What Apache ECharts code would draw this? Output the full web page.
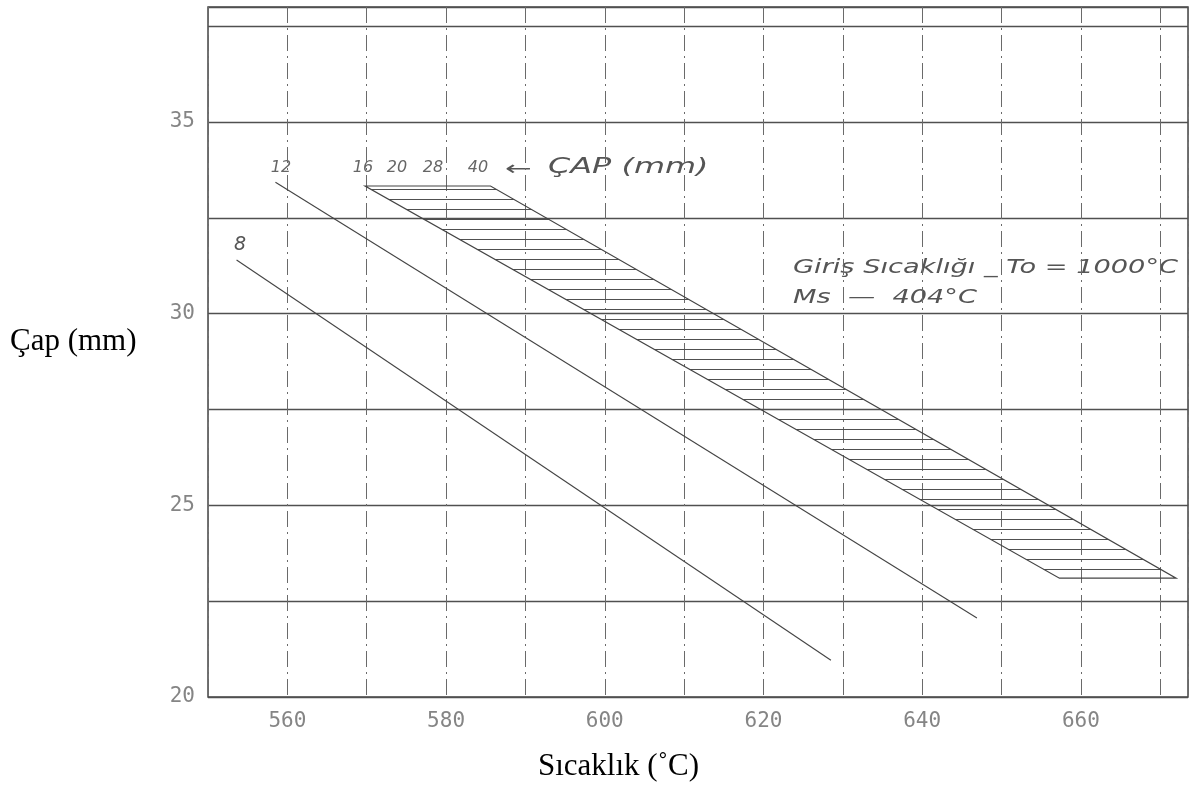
<!DOCTYPE html>
<html><head><meta charset="utf-8">
<script src="https://cdn.jsdelivr.net/npm/echarts@6/dist/echarts.min.js"></script>
<style>html,body{margin:0;padding:0;background:#fff}#c{width:1203px;height:794px}</style>
</head><body><div id="c"></div>
<script>
// ---- data ----
const xTickLabels = [560, 580, 600, 620, 640, 660];
const yTickLabels = [20, 25, 30, 35];
const line8  = [[553.6, 31.4], [628.5, 20.96]];
const line12 = [[558.5, 33.43], [646.9, 22.06]];
const bandCorners = [[569.8, 33.33], [585.6, 33.33], [672.0, 23.1], [657.3, 23.1]];
const bandDiameters = ['16', '20', '28', '40'];

// ---- hatch pattern for the band ----
const hc = document.createElement('canvas');
hc.width = 8; hc.height = 10;
const hctx = hc.getContext('2d');
hctx.fillStyle = '#505050';
hctx.fillRect(0, 9, 8, 1);
const hatch = { image: hc, repeat: 'repeat' };

const ink = '#444';
const faded = '#858585';
const handFont = '"DejaVu Sans", sans-serif';

const chart = echarts.init(document.getElementById('c'), null, { renderer: 'canvas' });

const diamX = [363, 397, 433, 478];

chart.setOption({
  animation: false,
  grid: { left: 208, right: 15, top: 7, bottom: 97, show: true,
          borderColor: ink, borderWidth: 1.5, backgroundColor: 'transparent' },
  xAxis: {
    type: 'value', min: 550, max: 673.5, interval: 10,
    axisLine: { show: false }, axisTick: { show: false },
    splitLine: { show: true, lineStyle: { color: '#6a6a6a', width: 1, type: [16, 5, 2, 5] } },
    axisLabel: {
      margin: 14, color: faded, fontFamily: '"DejaVu Sans Mono", monospace', fontSize: 21,
      formatter: v => xTickLabels.includes(Math.round(v)) && Math.abs(v - Math.round(v)) < 1e-6 ? String(Math.round(v)) : ''
    }
  },
  yAxis: {
    type: 'value', min: 20, max: 38, interval: 2.5,
    axisLine: { show: false }, axisTick: { show: false },
    splitLine: { show: true, lineStyle: { color: '#505050', width: 1.3 } },
    axisLabel: {
      margin: 13, color: faded, fontFamily: '"DejaVu Sans Mono", monospace', fontSize: 21,
      formatter: v => yTickLabels.includes(v) ? String(v) : ''
    }
  },
  series: [
    {
      type: 'custom', silent: true, z: 3,
      data: [bandCorners[0]],
      renderItem: function (params, api) {
        const pts = bandCorners.map(p => api.coord(p));
        return { type: 'polygon', shape: { points: pts },
                 style: { fill: hatch, stroke: ink, lineWidth: 1.2 } };
      }
    },
    { type: 'line', data: line8, showSymbol: false, symbol: 'none',
      lineStyle: { color: ink, width: 1.1 }, z: 4 },
    { type: 'line', data: line12, showSymbol: false, symbol: 'none',
      lineStyle: { color: ink, width: 1.1 }, z: 4 }
  ],
  graphic: [
    { type: 'text', left: 10, top: 326, style: { text: 'Çap (mm)', font: '31px "Liberation Serif", serif', fill: '#000' } },
    { type: 'text', left: 538, top: 751, style: { text: 'Sıcaklık (˚C)', font: '31px "Liberation Serif", serif', fill: '#000' } },
    { type: 'text', x: 240, y: 245, style: { text: '8', font: 'italic 19px ' + handFont, fill: '#555', align: 'center', verticalAlign: 'middle' } },
    { type: 'text', x: 281, y: 168, style: { text: '12', font: 'italic 16px ' + handFont, fill: '#666', align: 'center', verticalAlign: 'middle' } },
    ...bandDiameters.map((d, i) => ({ type: 'text', x: diamX[i], y: 168,
      style: { text: d, font: 'italic 16px ' + handFont, fill: '#666', align: 'center', verticalAlign: 'middle' } })),
    { type: 'text', x: 505, y: 170, scaleX: 1.6, style: { text: '←', font: '20px ' + handFont, fill: '#555', verticalAlign: 'middle' } },
    { type: 'text', x: 548, y: 167, scaleX: 1.45, style: { text: 'ÇAP (mm)', font: 'italic 22px ' + handFont, fill: '#555', verticalAlign: 'middle' } },
    { type: 'text', x: 793, y: 268, scaleX: 1.36, style: { text: 'Giriş Sıcaklığı _ To = 1000°C', font: 'italic 20px ' + handFont, fill: '#555', verticalAlign: 'middle' } },
    { type: 'text', x: 793, y: 298, scaleX: 1.36, style: { text: 'Ms  —  404°C', font: 'italic 20px ' + handFont, fill: '#555', verticalAlign: 'middle' } }
  ]
});
</script>
</body></html>
